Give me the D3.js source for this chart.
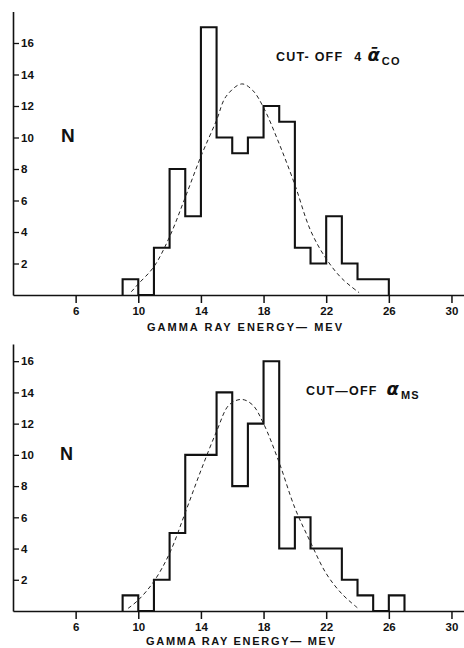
<!DOCTYPE html>
<html>
<head>
<meta charset="utf-8">
<script src="https://cdn.jsdelivr.net/npm/d3@7"></script>
<style>
  html, body { margin: 0; padding: 0; background: #fff; }
  svg { display: block; }
  .lbl { font-family: 'Liberation Sans', Arial, sans-serif; font-weight: bold; fill: #111; }
</style>
</head>
<body>
<svg id="chart" width="464" height="648"></svg>
<script>
// histogram bins are 1 MeV wide, starting at binStart
const binStart = 9;
const topCounts = [1, 0, 3, 8, 5, 17, 10, 9, 10, 12, 11, 3, 2, 5, 2, 1, 1];
const bottomCounts = [1, 0, 2, 5, 10, 10, 14, 8, 12, 16, 4, 6, 4, 4, 2, 1, 0, 1];

// dashed fitted curve
const topCurveE = [9.55, 10, 11, 12, 13, 14, 15, 15.6, 16.6, 17.3, 18, 19, 20, 21, 22, 23, 24.1];
const topCurveN = [0.2, 0.7, 1.8, 3.7, 6.2, 8.8, 11.1, 12.6, 13.4, 13.0, 11.9, 9.6, 7.0, 4.1, 2.3, 1.05, 0.15];
const bottomCurveE = [9.35, 10, 11, 12, 13, 14, 15, 15.8, 16.6, 17.3, 18, 19, 20, 21, 22, 23, 24];
const bottomCurveN = [0.17, 0.7, 1.9, 3.7, 6.3, 9.0, 11.5, 13.2, 13.55, 13.2, 12.0, 9.5, 6.6, 4.4, 2.4, 1.1, 0.2];

const xTicks = [6, 10, 14, 18, 22, 26, 30];
const yTicks = [2, 4, 6, 8, 10, 12, 14, 16];
const xLabel = 'GAMMA RAY ENERGY— MEV';

const svg = d3.select('#chart');
const x = d3.scaleLinear().domain([2, 30.8]).range([13, 464]);

function drawPanel(p) {
    const y = d3.scaleLinear().domain([0, p.yMax]).range([p.base, p.top]);
    const g = svg.append('g');

    // x axis
    const xa = g.append('g')
        .attr('transform', `translate(0,${p.base})`)
        .call(d3.axisBottom(x).tickValues(xTicks).tickSize(8).tickSizeOuter(0).tickPadding(4));
    xa.select('.domain').attr('stroke', '#111').attr('stroke-width', 1.6);
    xa.selectAll('.tick line').attr('stroke', '#111').attr('stroke-width', 1.5);
    xa.selectAll('.tick text').attr('class', 'lbl').style('font-size', '11.5px');

    // y axis, ticks point into the plot
    const ya = g.append('g')
        .attr('transform', `translate(${x(2)},0)`)
        .call(d3.axisRight(y).tickValues(yTicks).tickSize(6).tickSizeOuter(0).tickPadding(2));
    ya.select('.domain').attr('stroke', '#111').attr('stroke-width', 1.6);
    ya.selectAll('.tick line').attr('stroke', '#111').attr('stroke-width', 1.3);
    ya.selectAll('.tick text').attr('class', 'lbl').style('font-size', '11.5px');

    // histogram as a stepped outline
    const pts = [[binStart, 0]];
    p.counts.forEach((c, i) => pts.push([binStart + i, c]));
    pts.push([binStart + p.counts.length, 0]);
    const step = d3.line().x(d => x(d[0])).y(d => y(d[1])).curve(d3.curveStepAfter);
    g.append('path')
        .attr('d', step(pts))
        .attr('fill', 'none')
        .attr('stroke', '#111')
        .attr('stroke-width', 2.1)
        .attr('stroke-linejoin', 'miter');

    // fitted curve
    const fit = d3.line().x(d => x(d[0])).y(d => y(d[1])).curve(d3.curveCatmullRom);
    g.append('path')
        .attr('d', fit(d3.zip(p.curveE, p.curveN)))
        .attr('fill', 'none')
        .attr('stroke', '#222')
        .attr('stroke-width', 1)
        .attr('stroke-dasharray', '4,3');

    // axis title
    g.append('text').attr('class', 'lbl')
        .attr('x', p.xTitle[0]).attr('y', p.base + p.titleDy)
        .attr('textLength', p.xTitle[1] - p.xTitle[0])
        .attr('lengthAdjust', 'spacing')
        .style('font-size', '11px')
        .text(xLabel);

    // N
    g.append('text').attr('class', 'lbl')
        .attr('x', p.nPos[0]).attr('y', p.nPos[1])
        .style('font-size', p.nSize)
        .text('N');

    // cut-off note
    const t = g.append('text').attr('class', 'lbl')
        .attr('x', p.notePos[0]).attr('y', p.notePos[1])
        .style('font-size', '12.5px')
        .style('letter-spacing', '1.2px');
    t.append('tspan').text(p.note);
    if (p.factor) t.append('tspan').attr('dx', 11).text(p.factor);
    t.append('tspan')
        .attr('dx', p.alphaDx)
        .style('font-family', 'DejaVu Sans, sans-serif')
        .style('font-style', 'italic')
        .style('font-size', '18px')
        .style('letter-spacing', '0px')
        .text(p.alpha);
    t.append('tspan')
        .attr('dx', 2).attr('dy', 4)
        .style('font-size', '11px')
        .text(p.sub);
}

drawPanel({
    counts: topCounts, curveE: topCurveE, curveN: topCurveN,
    base: 295, top: 11.5, yMax: 18, titleDy: 36,
    xTitle: [147, 342], nPos: [61, 142], nSize: '19px',
    notePos: [276, 61], note: 'CUT- OFF', factor: '4', alphaDx: 5, alpha: 'α\u0304', sub: 'CO'
});

drawPanel({
    counts: bottomCounts, curveE: bottomCurveE, curveN: bottomCurveN,
    base: 611, top: 344, yMax: 17.1, titleDy: 34,
    xTitle: [146, 335], nPos: [60, 460], nSize: '18px',
    notePos: [306, 395], note: 'CUT—OFF', factor: null, alphaDx: 9, alpha: 'α', sub: 'MS'
});
</script>
</body>
</html>
